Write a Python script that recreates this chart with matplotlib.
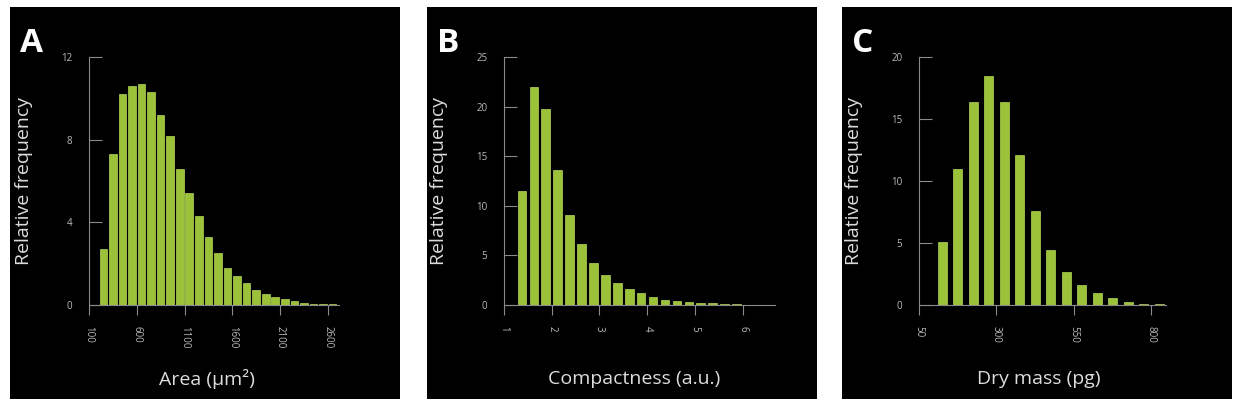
import matplotlib.pyplot as plt

plt.rcParams['font.family'] = ['Open Sans', 'DejaVu Sans']

# panel A: area histogram
area_centers = [250 + 100 * i for i in range(25)]
area_freq = [2.7, 7.3, 10.2, 10.6, 10.7, 10.3, 9.2, 8.2, 6.6, 5.4, 4.3, 3.3, 2.5,
             1.8, 1.4, 1.05, 0.75, 0.55, 0.4, 0.28, 0.2, 0.12, 0.07, 0.05, 0.03]
area_ticks = [100, 600, 1100, 1600, 2100, 2600]

# panel B: compactness histogram
comp_centers = [1.375 + 0.25 * i for i in range(20)]
comp_freq = [11.5, 22.0, 19.8, 13.6, 9.1, 6.1, 4.2, 3.0, 2.2, 1.6, 1.2, 0.85,
             0.55, 0.42, 0.33, 0.22, 0.16, 0.12, 0.08, 0.05]
comp_ticks = [1, 2, 3, 4, 5, 6]

# panel C: dry mass histogram
mass_centers = [125 + 50 * i for i in range(15)]
mass_freq = [5.1, 11.0, 16.4, 18.5, 16.4, 12.1, 7.6, 4.4, 2.7, 1.6, 1.0, 0.6,
             0.22, 0.12, 0.05]
mass_ticks = [50, 300, 550, 800]

W, H = 1240, 404
fig = plt.figure(figsize=(12.4, 4.04), dpi=100)
fig.patch.set_facecolor('white')

panels = [
    # letter, bg left px, axes left px, width px, xlim, spine end, ylim, yticks, data
    ('A', 10, 89, 256, (100, 2780), 2720, 12, [0, 4, 8, 12], area_centers, area_freq, 80, area_ticks, 'Area (µm²)'),
    ('B', 427, 504, 280, (1, 6.87), 6.68, 25, [0, 5, 10, 15, 20, 25], comp_centers, comp_freq, 0.18, comp_ticks, 'Compactness (a.u.)'),
    ('C', 842, 919, 260, (50, 889), 847, 20, [0, 5, 10, 15, 20], mass_centers, mass_freq, 30, mass_ticks, 'Dry mass (pg)'),
]

grey = '#8a8a8a'
for (letter, bgx, axl, axw, xlim, xend, ytop, yticks, xs, ys, bw, xticks, xlabel) in panels:
    bg = fig.add_axes([bgx / W, 5 / H, 390 / W, 392 / H], zorder=0)
    bg.set_facecolor('black')
    bg.set_xticks([])
    bg.set_yticks([])
    for s in bg.spines.values():
        s.set_visible(False)
    bg.text(10 / 390, 1 - 45 / 392, letter, transform=bg.transAxes, color='white',
            fontsize=24, fontweight='bold')
    bg.text((axl - bgx + axw / 2 - 10) / 390, 20 / 392, xlabel, transform=bg.transAxes,
            color='#dddddd', fontsize=14, ha='center', va='center')

    ax = fig.add_axes([axl / W, 1 - 305 / H, axw / W, 248 / H], zorder=1)
    ax.set_facecolor('none')
    ax.bar(xs, ys, width=bw, color='#9cc23a', edgecolor='#b5d65a', linewidth=0.5)
    ax.set_xlim(*xlim)
    ax.set_ylim(0, ytop)
    for s in ['top', 'right']:
        ax.spines[s].set_visible(False)
    for s in ['left', 'bottom']:
        ax.spines[s].set_color(grey)
    ax.spines['bottom'].set_bounds(xlim[0], xend)
    ax.set_yticks(yticks)
    ax.set_xticks(xticks)
    ax.set_xticklabels([str(t) for t in xticks], rotation=-90)
    ax.tick_params(axis='y', direction='in', length=9, color=grey, labelcolor='#bbbbbb',
                   labelsize=7, pad=12)
    ax.tick_params(axis='x', direction='out', length=7, color=grey, labelcolor='#bbbbbb',
                   labelsize=7, pad=8)
    ax.set_ylabel('Relative frequency', color='#dddddd', fontsize=14, labelpad=20)

fig.savefig('out.png', dpi=100, facecolor='white')
